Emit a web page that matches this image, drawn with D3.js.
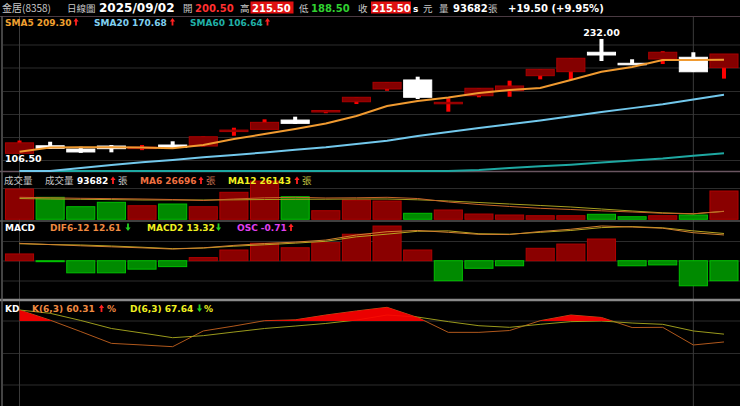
<!DOCTYPE html>
<html>
<head>
<meta charset="utf-8">
<script src="https://cdn.jsdelivr.net/npm/d3@7"></script>
<style>
  body { margin: 0; background: #000; }
  svg { display: block; }
  text { font-family: "DejaVu Sans", Verdana, sans-serif; font-weight: bold; }
  .cjk { font-family: "Noto Sans CJK TC", sans-serif; font-weight: normal; }
</style>
</head>
<body>
<svg id="chart"></svg>
<script>
// ----------------------
// Data
// ----------------------
const dates = ["07/31", "08/01", "08/04", "08/05", "08/06", "08/07", "08/08", "08/11", "08/12", "08/13",
  "08/14", "08/15", "08/18", "08/19", "08/20", "08/21", "08/22", "08/25", "08/26", "08/27",
  "08/28", "08/29", "09/01", "09/02"];
const open = [106.5, 114.8, 111.2, 114.5, 112.8, 115.6, 114.5, 130.5, 132.8, 143, 152, 163.1,
  177.1, 187, 161.4, 169.7, 175.2, 191.7, 196.1, 217.4, 205.3, 210, 211.9, 200.5];
const high = [120.5, 119.2, 113.7, 115.6, 115.6, 119.7, 125, 134.6, 143.8, 146.7, 154, 168,
  184.4, 190.6, 166.9, 177.9, 186.2, 198.7, 210.8, 232, 209.7, 218.5, 217.4, 215.5];
const low = [106.5, 111.5, 107, 107.6, 110, 112, 114, 125.8, 132.8, 138.7, 150.5, 160.6,
  175.2, 166.1, 152.2, 168, 168.6, 187.7, 187, 207.8, 203.8, 204.5, 196, 188.5];
const close = [118, 112, 108, 111.6, 113.3, 113.1, 124.7, 132, 140.5, 139.4, 153.5, 168,
  184.4, 168, 162.5, 177.9, 180.4, 198.7, 210.8, 214.4, 203.8, 217.4, 196, 215.5];

const sma5 = [108.3, 112.9, 113.1, 113.1, 112.9, 112.0, 115.6, 122.2, 127.7, 133.2, 139.2, 147.4,
  158.4, 163.9, 167.8, 172.7, 176.0, 178.2, 187.0, 196.1, 201.2, 208.9, 208.9, 209.3];
const sma20 = [83.2, 86.6, 90.3, 93.8, 96.6, 99.1, 102.1, 104.6, 107.5, 110.3, 113.1, 116.7,
  120.3, 125.4, 130.0, 134.3, 138.4, 142.6, 147.2, 151.9, 156.1, 160.4, 165.6, 170.68];
const sma60 = [73.6, 73.8, 74.0, 74.3, 74.6, 75.0, 75.5, 76.2, 77.0, 78.0, 79.2, 80.6,
  82.2, 84.0, 86.0, 88.2, 90.4, 92.2, 94.0, 96.4, 98.6, 100.8, 103.8, 106.64];

const volume = [100300, 72800, 41700, 56300, 45000, 50600, 41700, 89400, 126800, 74800, 28500, 63900,
  60600, 19900, 30800, 17500, 14200, 11900, 11900, 16600, 8600, 11900, 14200, 93682];
const volMa6 = [72800, 71200, 69500, 68500, 67200, 65500, 62200, 67200, 71200, 72800, 70500, 71200,
  72800, 68800, 57300, 49000, 42400, 36400, 32400, 28100, 24200, 19900, 18200, 26696];
const volMa12 = [68800, 67200, 66200, 65200, 63900, 63900, 63900, 64500, 65500, 66200, 66500, 67200,
  67200, 64500, 60600, 55600, 50600, 45700, 40700, 34100, 27500, 21500, 18200, 26143];

const dif = [8.5, 7.9, 7.3, 6.8, 6.3, 5.7, 6.3, 7.5, 8.4, 9.1, 10.1, 12.6,
  14.2, 14.8, 13.9, 12.9, 12.8, 14.3, 15.4, 17.0, 16.5, 15.9, 13.7, 12.61];
const macd = [8.3, 7.9, 7.7, 7.2, 6.6, 5.9, 6.2, 7.1, 7.8, 8.6, 9.5, 11.7,
  13.0, 14.4, 14.6, 13.2, 13.0, 13.9, 14.8, 16.2, 16.7, 16.1, 14.6, 13.32];
const osc = [0.24, -0.03, -0.43, -0.43, -0.30, -0.21, 0.11, 0.38, 0.62, 0.46, 0.64, 0.94,
  1.23, 0.38, -0.71, -0.27, -0.18, 0.44, 0.59, 0.77, -0.18, -0.15, -0.89, -0.71];

const kVals = [90.2, 80.7, 70.0, 59.0, 57.5, 55.9, 70.6, 75.2, 80.2, 81.0, 85.5, 89.3,
  92.7, 83.2, 69.3, 69.3, 71.0, 80.2, 85.5, 83.2, 73.8, 74.0, 57.5, 60.31];
const dVals = [90.2, 87.1, 80.4, 72.9, 68.7, 64.3, 66.2, 69.6, 72.9, 75.2, 77.6, 80.8,
  85.5, 83.6, 79.3, 75.5, 74.0, 76.8, 79.3, 79.9, 78.0, 76.8, 70.6, 67.64];

// ----------------------
// Setup
// ----------------------
const width = 740, height = 406;
const svg = d3.select("#chart").attr("width", width).attr("height", height);
svg.append("rect").attr("width", width).attr("height", height).attr("fill", "#000");

const x = d3.scaleBand().domain(dates).range([4.2, 739.3]).paddingInner(0.05).paddingOuter(0.025);
const cx = d => x(d) + x.bandwidth() / 2;

const mainBottom = 171;
const yPrice = d3.scaleLinear().domain([87.1, 256.1]).range([mainBottom, 17]);
const yVol = d3.scaleLinear().domain([0, 156600]).range([219.3, 172]);
const yMacd = d3.scaleLinear().domain([-19, 19]).range([299.5, 221.9]);
const yOsc = d3.scaleLinear().domain([-1.37, 1.37]).range([299.3, 222.1]);
const yKd = d3.scaleLinear().domain([0, 100]).range([406.5, 299.5]);

const bars = dates.map((d, i) => ({
  d, o: open[i], h: high[i], l: low[i], c: close[i], v: volume[i], up: close[i] >= open[i]
}));

// ----------------------
// Grid
// ----------------------
const grid = svg.append("g").attr("stroke", "#2c2c2c").attr("stroke-width", 1);
[45, 68, 91.5, 114.5, 137.5, 160.5, 188.5, 241.5, 261, 281, 321, 353.5, 385].forEach(gy => {
  grid.append("line").attr("x1", 3).attr("x2", width).attr("y1", gy).attr("y2", gy);
});
[dates[0], "09/01"].forEach(d => {
  grid.append("line").attr("x1", cx(d)).attr("x2", cx(d)).attr("y1", 16).attr("y2", height)
    .attr("stroke", "#3a3a3a");
});

// separators
svg.append("line").attr("x1", 0).attr("x2", width).attr("y1", 16.5).attr("y2", 16.5).attr("stroke", "#4a3a42");
svg.append("line").attr("x1", 0).attr("x2", width).attr("y1", 171.5).attr("y2", 171.5).attr("stroke", "#6a5560").attr("stroke-width", 1.5);
svg.append("line").attr("x1", 0).attr("x2", width).attr("y1", 221).attr("y2", 221).attr("stroke", "#555").attr("stroke-width", 1.5);
svg.append("line").attr("x1", 0).attr("x2", width).attr("y1", 300).attr("y2", 300).attr("stroke", "#8a8a8a").attr("stroke-width", 2.5);
svg.append("line").attr("x1", 2).attr("x2", 2).attr("y1", 16).attr("y2", height).attr("stroke", "#5a5a5a").attr("stroke-width", 1.5);

// ----------------------
// Candles
// ----------------------
const bw = x.bandwidth();
const candles = svg.append("g");
candles.selectAll(".wick").data(bars).enter().append("rect")
  .attr("x", d => cx(d.d) - 2)
  .attr("width", 4)
  .attr("y", d => yPrice(d.h))
  .attr("height", d => Math.max(1, yPrice(d.l) - yPrice(d.h)))
  .attr("fill", d => d.up ? "#ff0000" : "#ffffff");
candles.selectAll(".body").data(bars).enter().append("rect")
  .attr("x", d => x(d.d) + 0.5)
  .attr("width", bw - 1)
  .attr("y", d => yPrice(Math.max(d.o, d.c)))
  .attr("height", d => Math.max(1.5, Math.abs(yPrice(d.o) - yPrice(d.c))))
  .attr("fill", d => d.up ? "#840000" : "#ffffff")
  .attr("stroke", d => d.up ? "#a80000" : "#ffffff")
  .attr("stroke-width", 1);

// moving averages (clamped to the pane bottom like the original)
const priceLine = d3.line()
  .x((v, i) => cx(dates[i]))
  .y(v => Math.min(yPrice(v), mainBottom));
[[sma60, "#1ea8a2"], [sma20, "#72c8ec"], [sma5, "#f09a30"]].forEach(([arr, col]) => {
  svg.append("path").attr("d", priceLine(arr)).attr("fill", "none")
    .attr("stroke", col).attr("stroke-width", 2);
});

// high / low labels
const iMax = d3.maxIndex(high), iMin = d3.minIndex(low);
svg.append("text").attr("x", cx(dates[iMax])).attr("y", yPrice(high[iMax]) - 2.5)
  .attr("text-anchor", "middle").attr("font-size", 9.5).attr("fill", "#fff")
  .text(high[iMax].toFixed(2));
svg.append("text").attr("x", Math.max(5, x(dates[iMin]))).attr("y", yPrice(low[iMin]) + 9)
  .attr("font-size", 9.5).attr("fill", "#fff")
  .text(low[iMin].toFixed(2));

// ----------------------
// Volume
// ----------------------
svg.append("g").selectAll("rect").data(bars).enter().append("rect")
  .attr("x", d => x(d.d) + 0.5)
  .attr("width", bw - 1)
  .attr("y", d => yVol(d.v))
  .attr("height", d => yVol(0) - yVol(d.v))
  .attr("fill", d => d.up ? "#8a0000" : "#008a00")
  .attr("stroke", d => d.up ? "#b00000" : "#00c000");

const volLine = d3.line().x((v, i) => cx(dates[i])).y(v => yVol(v));
svg.append("path").attr("d", volLine(volMa12)).attr("fill", "none").attr("stroke", "#a8a020").attr("stroke-width", 1);
svg.append("path").attr("d", volLine(volMa6)).attr("fill", "none").attr("stroke", "#c8642a").attr("stroke-width", 1);

// ----------------------
// MACD
// ----------------------
svg.append("g").selectAll("rect").data(osc).enter().append("rect")
  .attr("x", (v, i) => x(dates[i]) + 0.5)
  .attr("width", bw - 1)
  .attr("y", v => v >= 0 ? yOsc(v) : yOsc(0))
  .attr("height", v => Math.max(1, Math.abs(yOsc(v) - yOsc(0))))
  .attr("fill", v => v >= 0 ? "#8a0000" : "#008a00")
  .attr("stroke", v => v >= 0 ? "#b00000" : "#00c000");

const macdLine = d3.line().x((v, i) => cx(dates[i])).y(v => yMacd(v));
svg.append("path").attr("d", macdLine(macd)).attr("fill", "none").attr("stroke", "#b8a420").attr("stroke-width", 1);
svg.append("path").attr("d", macdLine(dif)).attr("fill", "none").attr("stroke", "#d08030").attr("stroke-width", 1);

// ----------------------
// KD
// ----------------------
svg.append("clipPath").attr("id", "kdClip")
  .append("rect").attr("x", 0).attr("y", 300).attr("width", width).attr("height", yKd(80) - 300);
const kdLine = d3.line().x((v, i) => cx(dates[i])).y(v => yKd(v));
svg.append("path").attr("d", kdLine(kVals)).attr("fill", "none").attr("stroke", "#b0581c").attr("stroke-width", 1);
svg.append("path").attr("d", kdLine(dVals)).attr("fill", "none").attr("stroke", "#9a9a1c").attr("stroke-width", 1);
svg.append("path")
  .attr("d", d3.area().x((v, i) => cx(dates[i])).y0(yKd(80)).y1(v => yKd(v))(kVals))
  .attr("fill", "#ff0000").attr("opacity", 0.92).attr("clip-path", "url(#kdClip)");

// ----------------------
// Texts
// ----------------------
function txt(tx, ty, s, col, size = 9, cls = null) {
  const t = svg.append("text").attr("x", tx).attr("y", ty).attr("font-size", size).attr("fill", col).text(s);
  if (cls) t.attr("class", cls);
  return t;
}
function arrow(ax, base, up, col) {
  const p = up
    ? `M${ax},${base - 7.5}L${ax + 2.6},${base - 4}L${ax + 0.9},${base - 4}L${ax + 0.9},${base}L${ax - 0.9},${base}L${ax - 0.9},${base - 4}L${ax - 2.6},${base - 4}Z`
    : `M${ax},${base}L${ax + 2.6},${base - 3.5}L${ax + 0.9},${base - 3.5}L${ax + 0.9},${base - 7.5}L${ax - 0.9},${base - 7.5}L${ax - 0.9},${base - 3.5}L${ax - 2.6},${base - 3.5}Z`;
  svg.append("path").attr("d", p).attr("fill", col);
}
const RED = "#ff2020", GRN = "#20d020", GRAY = "#c8c8c8";

// header
txt(2, 11.5, "金居(8358)", GRAY, 10, "cjk");
txt(67, 11.5, "日線圖", GRAY, 9.5, "cjk");
txt(99, 11.5, "2025/09/02", "#fff", 12);
txt(183, 11.5, "開", GRAY, 9.5, "cjk");
txt(195, 11.5, open[open.length - 1].toFixed(2), "#ff3030", 10);
txt(240, 11.5, "高", GRAY, 9.5, "cjk");
svg.append("rect").attr("x", 250.5).attr("y", 1.5).attr("width", 43).attr("height", 12).attr("fill", "#e01010");
txt(252, 11.5, high[high.length - 1].toFixed(2), "#fff", 10);
txt(299, 11.5, "低", GRAY, 9.5, "cjk");
txt(311, 11.5, low[low.length - 1].toFixed(2), "#30d030", 10);
txt(358, 11.5, "收", GRAY, 9.5, "cjk");
svg.append("rect").attr("x", 371).attr("y", 1.5).attr("width", 40).attr("height", 12).attr("fill", "#e01010");
txt(372, 11.5, close[close.length - 1].toFixed(2), "#fff", 10);
txt(413, 11.5, "s", "#fff", 9);
txt(423, 11.5, "元", GRAY, 9.5, "cjk");
txt(439, 11.5, "量", GRAY, 9.5, "cjk");
txt(453, 11.5, String(volume[volume.length - 1]), "#fff", 10);
txt(488, 11.5, "張", GRAY, 9.5, "cjk");
txt(508, 11.5, "+19.50 (+9.95%)", "#fff", 10);

// main legend
txt(5, 25.5, "SMA5 " + sma5[23].toFixed(2), "#f0a030");
arrow(76, 25.5, true, RED);
txt(94, 25.5, "SMA20 " + sma20[23].toFixed(2), "#80d0f0");
arrow(172.5, 25.5, true, RED);
txt(190, 25.5, "SMA60 " + sma60[23].toFixed(2), "#20b0a8");
arrow(267.5, 25.5, true, RED);

// volume legend
txt(4, 184, "成交量", GRAY, 9.5, "cjk");
txt(45, 184, "成交量", GRAY, 9.5, "cjk");
txt(77, 184, String(volume[23]), "#fff");
arrow(113, 184, true, RED);
txt(118, 184, "張", GRAY, 9.5, "cjk");
txt(140, 184, "MA6 " + volMa6[23], "#f07040");
arrow(201, 184, true, RED);
txt(206, 184, "張", "#c87050", 9.5, "cjk");
txt(228, 184, "MA12 " + volMa12[23], "#f0f020");
arrow(297, 184, true, RED);
txt(302, 184, "張", "#c0c040", 9.5, "cjk");

// macd legend
txt(5, 231, "MACD", "#fff");
txt(50, 231, "DIF6-12 " + dif[23].toFixed(2), "#f08a40");
arrow(128, 231, false, GRN);
txt(147, 231, "MACD2 " + macd[23].toFixed(2), "#f0f020");
arrow(218.5, 231, false, GRN);
txt(237, 231, "OSC " + osc[23].toFixed(2), "#e040f0");
arrow(291, 231, true, RED);

// kd legend
txt(5, 312, "KD", "#fff");
txt(32, 312, "K(6,3) " + kVals[23].toFixed(2), "#f08a40");
arrow(101.5, 312, true, RED);
txt(107, 312, "%", "#f08a40");
txt(130, 312, "D(6,3) " + dVals[23].toFixed(2), "#f0f020");
arrow(199.5, 312, false, GRN);
txt(204, 312, "%", "#f0f020");
</script>
</body>
</html>
